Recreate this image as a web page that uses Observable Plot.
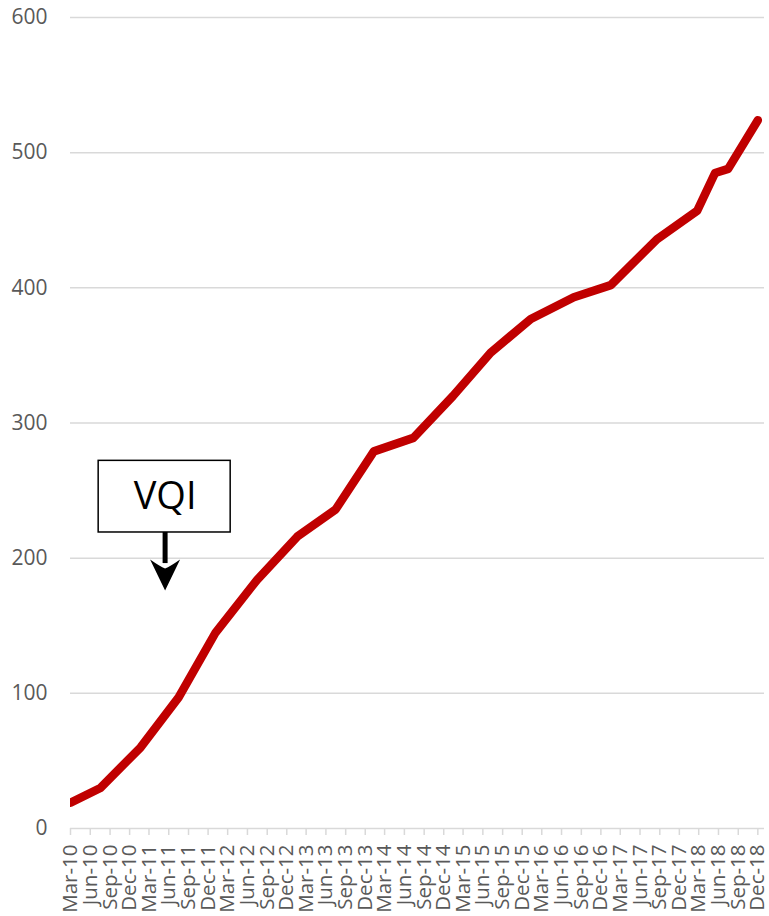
<!DOCTYPE html>
<html>
<head>
<meta charset="utf-8">
<script src="https://cdn.jsdelivr.net/npm/d3@7"></script>
<script src="https://cdn.jsdelivr.net/npm/@observablehq/plot@0.6"></script>
<style>
  html, body { margin: 0; padding: 0; background: #ffffff; }
  #chart svg { display: block; overflow: visible; }
</style>
</head>
<body>
<div id="chart"></div>
<script>
// ---- data ----
const dates = [
  "2010-03-01", "2010-07-18", "2011-01-21", "2011-07-17", "2012-01-05",
  "2012-07-16", "2013-01-19", "2013-07-16", "2014-01-10", "2014-07-13",
  "2015-01-13", "2015-07-07", "2016-01-10", "2016-07-28", "2017-01-16",
  "2017-08-19", "2018-02-22", "2018-05-16", "2018-07-16", "2018-12-01"
];
const values = [
  19, 30, 60, 97, 145,
  184, 216, 236, 279, 289,
  320, 352, 377, 393, 402,
  436, 457, 485, 488, 524
];
const xTickLabels = [
  "Mar-10","Jun-10","Sep-10","Dec-10","Mar-11","Jun-11","Sep-11","Dec-11",
  "Mar-12","Jun-12","Sep-12","Dec-12","Mar-13","Jun-13","Sep-13","Dec-13",
  "Mar-14","Jun-14","Sep-14","Dec-14","Mar-15","Jun-15","Sep-15","Dec-15",
  "Mar-16","Jun-16","Sep-16","Dec-16","Mar-17","Jun-17","Sep-17","Dec-17",
  "Mar-18","Jun-18","Sep-18","Dec-18"
];
const yTicks = [0, 100, 200, 300, 400, 500, 600];
const xDomain = ["2010-03-01", "2019-01-01"];

// annotation (in data coordinates)
const annotText = ["VQI"];
const annotBox = { x1: "2010-07-10", x2: "2012-03-15", y1: 219, y2: 272 };
const annotArrow = { x: "2011-05-15", yTop: 219, yBase: 196, yTip: 176 };

// ---- build ----
const parseTick = d3.utcParse("%b-%y");
const tickDates = xTickLabels.map(parseTick);
const fmt = d3.utcFormat("%b-%y");
const data = dates.map((d, i) => ({ date: new Date(d), value: values[i] }));
const box = [{ x1: new Date(annotBox.x1), x2: new Date(annotBox.x2), y1: annotBox.y1, y2: annotBox.y2 }];
const arrow = [{ x: new Date(annotArrow.x), yTop: annotArrow.yTop, yBase: annotArrow.yBase, yTip: annotArrow.yTip }];
const label = [{ x: new Date(annotArrow.x), y: (annotBox.y1 + annotBox.y2) / 2, text: annotText[0] }];

// stealth arrowhead pointing down, tip at origin
const arrowHead = {
  draw(context) {
    context.moveTo(0, 0);
    context.lineTo(-15, -31);
    context.quadraticCurveTo(-5, -24, 0, -22);
    context.quadraticCurveTo(5, -24, 15, -31);
    context.closePath();
  }
};

const gray = "#d9d9d9";
const textGray = "#595959";

const chart = Plot.plot({
  width: 769,
  height: 916,
  marginLeft: 70,
  marginRight: 5,
  marginTop: 17,
  marginBottom: 88,
  style: { fontFamily: "'Open Sans', sans-serif", background: "#ffffff" },
  x: { type: "utc", domain: xDomain.map(d => new Date(d)) },
  y: { domain: [0, 600] },
  marks: [
    Plot.gridY(yTicks.filter(d => d > 0), { stroke: gray, strokeOpacity: 1, strokeWidth: 1.5 }),
    Plot.ruleY([0], { stroke: gray, strokeWidth: 1.5 }),
    Plot.axisY({ ticks: yTicks, tickSize: 0, tickPadding: 23, fontSize: 21, color: textGray, label: null }),
    Plot.axisX({ ticks: tickDates, tickSize: 7, stroke: gray, strokeWidth: 1.5, fill: "none", label: null }),
    Plot.axisX({ ticks: tickDates, tickSize: 0, tickPadding: 16, tickRotate: -90, tickFormat: fmt,
                 fontSize: 20.5, color: textGray, label: null }),
    Plot.line(data, { x: "date", y: "value", stroke: "#c00000", strokeWidth: 8.5,
                      strokeLinejoin: "round", strokeLinecap: "round", clip: true }),
    Plot.rect(box, { x1: "x1", x2: "x2", y1: "y1", y2: "y2", fill: "#ffffff", stroke: "#000000", strokeWidth: 1.5 }),
    Plot.text(label, { x: "x", y: "y", text: "text", fontSize: 38, fill: "#000000" }),
    Plot.ruleX(arrow, { x: "x", y1: "yTop", y2: "yBase", stroke: "#000000", strokeWidth: 5 }),
    Plot.dot(arrow, { x: "x", y: "yTip", symbol: arrowHead, r: 15, fill: "#000000", stroke: "none" })
  ]
});
document.getElementById("chart").appendChild(chart);
</script>
</body>
</html>
